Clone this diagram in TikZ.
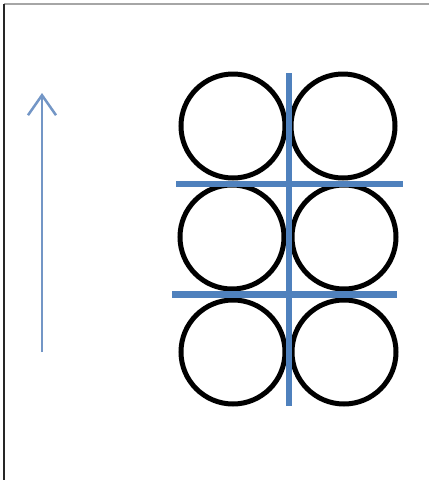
\documentclass[tikz,border=0pt]{standalone}
\usetikzlibrary{arrows.meta}
\definecolor{barblue}{HTML}{4F81BD}
\definecolor{arrblue}{HTML}{7396C6}
\tikzset{
  ring/.style={circle, draw=black, line width=5pt, minimum size=104pt, inner sep=0pt},
  bar/.style={draw=barblue, line width=6.5pt},
  uparrow/.style={draw=arrblue, line width=2pt, -{Straight Barb[length=20pt,width=28pt,line width=2.5pt]}}
}
\begin{document}
\begin{tikzpicture}[x=1pt,y=-1pt]
\useasboundingbox (0,0) rectangle (429,480);
\fill[white] (0,0) rectangle (429,480);
\draw[gray!70, line width=1.2pt] (4,4) -- (429,4);
\draw[black!85, line width=1.2pt] (4,4) -- (4,480);
% circles
\node[ring] (c11) at (233,126) {};
\node[ring] (c12) at (343,126) {};
\node[ring] (c21) at (232,237) {};
\node[ring] (c22) at (344,237) {};
\node[ring] (c31) at (233,352) {};
\node[ring] (c32) at (344,352) {};
% bars
\coordinate (vt) at (289,73);
\coordinate (vb) at (289,406);
\coordinate (h1l) at (176,184);
\coordinate (h1r) at (403,184);
\coordinate (h2l) at (172,294);
\coordinate (h2r) at (397,294);
\draw[bar] (vt) -- (vb);
\draw[bar, line width=5.5pt] (h1l) -- (h1r);
\draw[bar, line width=7pt] (h2l) -- (h2r);
% arrow
\coordinate (as) at (42,352);
\coordinate (ae) at (42,93);
\draw[uparrow] (as) -- (ae);
\end{tikzpicture}
\end{document}
